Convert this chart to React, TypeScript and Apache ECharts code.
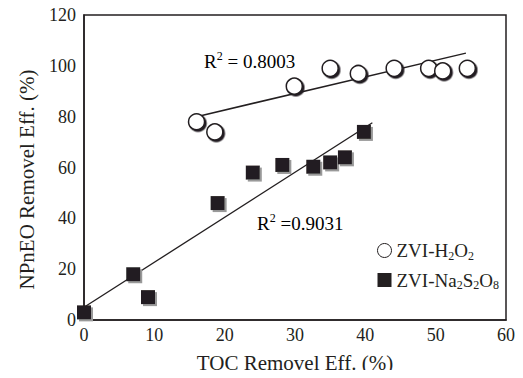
import React, { useEffect, useRef } from "react";
import * as echarts from "echarts";

const h2o2Points: [number, number][] = [
  [16, 78], [18.6, 74], [29.9, 92], [35, 99], [39, 97], [44.1, 99], [49, 99], [51, 98], [54.5, 99],
];
const na2s2o8Points: [number, number][] = [
  [0, 3], [7, 18], [9.1, 9], [19, 46], [24, 58], [28.2, 61], [32.6, 60.3], [35, 62], [37.1, 64], [39.8, 74],
];
const h2o2Fit: [number, number][] = [[16, 80], [54.3, 105]];
const na2s2o8Fit: [number, number][] = [[0, 5], [41, 77.6]];
const xTicks = { min: 0, max: 60, interval: 10 };
const yTicks = { min: 0, max: 120, interval: 20 };
const r2Labels = ["0.8003", "0.9031"];

const INK = "#231f20";
const FONT = "'Liberation Serif', 'Times New Roman', serif";

export default function App() {
  const ref = useRef<HTMLDivElement>(null);
  useEffect(() => {
    if (!ref.current) return;
    const chart = echarts.init(ref.current, undefined, { renderer: "svg" });
    const rich = {
      base: { fontFamily: FONT, fontSize: 19, color: INK, lineHeight: 22 },
      sup: { fontFamily: FONT, fontSize: 12, color: INK, verticalAlign: "top", lineHeight: 22 },
      sub: { fontFamily: FONT, fontSize: 12, color: INK, verticalAlign: "bottom", lineHeight: 22 },
    };
    chart.setOption({
      animation: false,
      grid: { left: 84, right: 17, top: 15, bottom: 58, show: true, borderColor: INK, borderWidth: 1.5 },
      xAxis: {
        type: "value", ...xTicks,
        name: "TOC Removel Eff. (%)", nameLocation: "middle", nameGap: 32,
        nameTextStyle: { fontFamily: FONT, fontSize: 21, color: INK },
        axisLine: { show: true, lineStyle: { color: INK, width: 1.5 } },
        axisTick: { show: false }, splitLine: { show: false },
        axisLabel: { fontFamily: FONT, fontSize: 18, color: INK, margin: 6 },
      },
      yAxis: {
        type: "value", ...yTicks,
        name: "NPnEO Removel Eff. (%)", nameLocation: "middle", nameGap: 47,
        nameTextStyle: { fontFamily: FONT, fontSize: 21, color: INK, padding: [0, 24, 0, 0] },
        axisLine: { show: true, lineStyle: { color: INK, width: 1.5 } },
        axisTick: { show: false }, splitLine: { show: false },
        axisLabel: { fontFamily: FONT, fontSize: 18, color: INK, margin: 8 },
      },
      legend: {
        orient: "vertical", left: 372, top: 236, itemGap: 9, itemWidth: 14, itemHeight: 14,
        data: [
          { name: "ZVI-H2O2", icon: "circle", itemStyle: { color: "#fff", borderColor: INK, borderWidth: 1 } },
          { name: "ZVI-Na2S2O8", icon: "rect", itemStyle: { color: INK, borderWidth: 0 } },
        ],
        formatter: (name: string) =>
          name === "ZVI-H2O2"
            ? "{base|ZVI-H}{sub|2}{base|O}{sub|2}"
            : "{base|ZVI-Na}{sub|2}{base|S}{sub|2}{base|O}{sub|8}",
        textStyle: { rich },
      },
      graphic: [
        {
          type: "text", left: 204, top: 50,
          style: { text: `{base|R}{sup|2}{base| = ${r2Labels[0]}}`, rich },
        },
        {
          type: "text", left: 257, top: 212,
          style: { text: `{base|R}{sup|2}{base| =${r2Labels[1]}}`, rich },
        },
      ],
      series: [
        {
          type: "line", data: h2o2Fit, symbol: "none", silent: true,
          lineStyle: { color: INK, width: 1.5 }, z: 1,
        },
        {
          type: "line", data: na2s2o8Fit, symbol: "none", silent: true,
          lineStyle: { color: INK, width: 1.3 }, z: 1,
        },
        {
          name: "ZVI-H2O2", type: "scatter", data: h2o2Points, symbol: "circle", symbolSize: 16, z: 3,
          itemStyle: {
            color: "#fff", borderColor: INK, borderWidth: 1.5, opacity: 1,
            shadowColor: INK, shadowOffsetX: 1.5, shadowOffsetY: 1.5, shadowBlur: 0,
          },
        },
        {
          name: "ZVI-Na2S2O8", type: "scatter", data: na2s2o8Points, symbol: "rect", symbolSize: 14, z: 3,
          itemStyle: {
            color: INK, opacity: 1,
            shadowColor: "#999", shadowOffsetX: 2, shadowOffsetY: 2, shadowBlur: 0,
          },
        },
      ],
    });
    return () => chart.dispose();
  }, []);
  return <div ref={ref} style={{ width: 523, height: 378, margin: -8 }} />;
}
